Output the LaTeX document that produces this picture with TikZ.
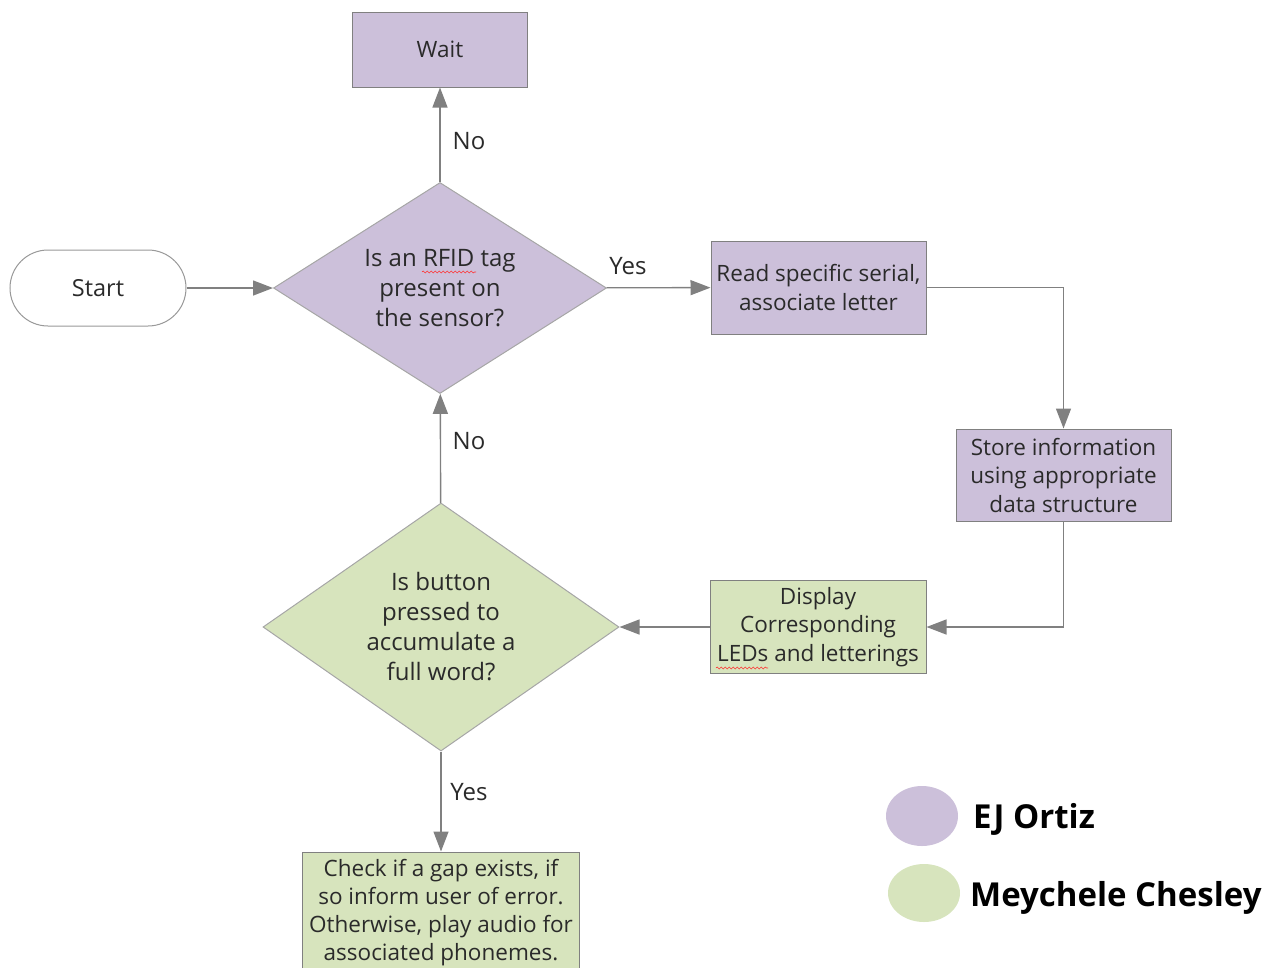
\documentclass[tikz,border=0pt]{standalone}
\usepackage{fontspec}
\setmainfont{Open Sans}
\usetikzlibrary{shapes.geometric,arrows.meta,decorations.pathmorphing}
\definecolor{purp}{HTML}{CCC0DA}
\definecolor{grn}{HTML}{D7E4BD}
\definecolor{edge}{HTML}{808080}
\definecolor{txt}{HTML}{2A2A2A}
\begin{document}
\begin{tikzpicture}[x=1pt,y=-1pt,
  base/.style={draw=edge, line width=1pt, text=txt, align=center, inner sep=0pt,
    font=\fontsize{22.5}{29}\selectfont},
  pbox/.style={base, rectangle, fill=purp},
  gbox/.style={base, rectangle, fill=grn},
  dia/.style={base, diamond, draw=edge!70, font=\fontsize{24}{30}\selectfont},
  conn/.style={draw=edge, line width=1.4pt, -{Triangle[length=20pt,width=15pt]}},
  lab/.style={text=txt, font=\fontsize{24}{26}\selectfont, inner sep=0pt},
  legtext/.style={text=black, font=\fontsize{33}{36}\selectfont\bfseries, inner sep=0pt, anchor=west},
  squig/.style={draw=red!80, line width=0.6pt, decorate, decoration={snake, amplitude=1pt, segment length=4pt}}
]
\useasboundingbox (0,0) rectangle (1267,967);
\clip (0,0) rectangle (1267,967);

\node[pbox, minimum width=175pt, minimum height=75pt] (wait) at (440,49.5) {Wait};
\node[base, fill=white, draw=edge!80, rounded corners=38pt, minimum width=176pt, minimum height=76pt, font=\fontsize{23.5}{28}\selectfont] (start) at (98,288) {Start};
\node[dia, fill=purp, minimum width=333pt, minimum height=211pt, aspect=1.58] (d1) at (440,288) {Is an RFID tag\\present on\\the sensor?};
\node[pbox, minimum width=215pt, minimum height=93pt] (read) at (818.5,287.5) {Read specific serial,\\associate letter};
\node[pbox, minimum width=215pt, minimum height=92pt, font=\fontsize{22.5}{28.5}\selectfont] (store) at (1063.5,475) {Store information\\using appropriate\\data structure};
\node[gbox, minimum width=216pt, minimum height=93pt, font=\fontsize{22.5}{28.5}\selectfont] (disp) at (818,627) {Display\\Corresponding\\LEDs and letterings};
\node[dia, fill=grn, minimum width=356pt, minimum height=248pt, aspect=1.435] (d2) at (441,627) {Is button\\pressed to\\accumulate a\\full word?};
\node[gbox, minimum width=277pt, minimum height=122pt, font=\fontsize{22.5}{28}\selectfont] (check) at (441,913) {Check if a gap exists, if\\so inform user of error.\\Otherwise, play audio for\\associated phonemes.};

\draw[conn] (start) -- (d1);
\draw[conn] (d1) -- (wait);
\draw[conn] (d1) -- (read);
\draw[conn] (read.east) -| (store.north);
\draw[conn] (store.south) |- (disp.east);
\draw[conn] (disp) -- (d2);
\draw[conn] (d2) -- (d1);
\draw[conn] (d2) -- (check);

\node[lab] (no1) at (469,141) {No};
\node[lab] (yes1) at (628,266) {Yes};
\node[lab] (no2) at (469,441) {No};
\node[lab] (yes2) at (469,792) {Yes};

\coordinate (s1a) at (422,272); \coordinate (s1b) at (476,272);
\coordinate (s2a) at (716,668); \coordinate (s2b) at (768,668);
\draw[squig] (s1a) -- (s1b);
\draw[squig] (s2a) -- (s2b);

\node[ellipse, fill=purp, minimum width=72pt, minimum height=60pt, inner sep=0pt] (l1) at (922,816) {};
\node[ellipse, fill=grn, minimum width=72pt, minimum height=58pt, inner sep=0pt] (l2) at (924,893) {};
\node[legtext] (t1) at (973,819) {EJ Ortiz};
\node[legtext] (t2) at (970,898) {Meychele Chesley};
\end{tikzpicture}
\end{document}
